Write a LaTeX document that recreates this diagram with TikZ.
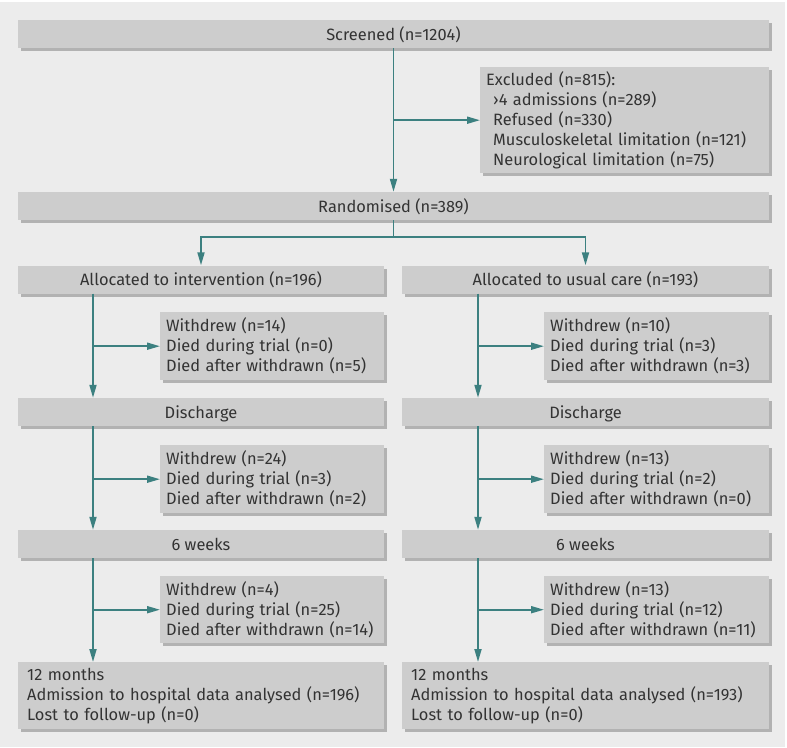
\documentclass[tikz,border=0pt]{standalone}
\usepackage{fontspec}
\setmainfont{Fira Sans}
\usetikzlibrary{arrows.meta,shadows}

\definecolor{bggray}{HTML}{ECECEC}
\definecolor{boxgray}{HTML}{CDCDCD}
\definecolor{shadegray}{HTML}{B2B2B2}
\definecolor{flowteal}{RGB}{60,128,128}
\definecolor{inkgray}{HTML}{333333}

\tikzset{
  boxed/.style={fill=boxgray, text=inkgray,
    drop shadow={shadow xshift=3pt, shadow yshift=-3pt, fill=shadegray, opacity=1}},
  bar/.style={boxed, minimum height=28pt, inner sep=0pt, text height=12pt, text depth=0pt},
  side/.style={boxed, align=left, anchor=north west, inner xsep=6pt, inner ysep=0pt},
  link/.style={draw=flowteal, line width=1.8pt},
  flow/.style={link, -{Triangle[length=13pt, width=7pt]}}
}

\begin{document}
\begin{tikzpicture}[x=1pt, y=-1pt, font=\fontsize{16.4}{20}\selectfont]
    % Background
    \fill[white] (0,0) rectangle (787,747);
    \fill[bggray] (0,2) rectangle (785,747);
    \useasboundingbox (0,0) rectangle (787,747);

    % Top of the flow
    \node[bar, minimum width=751pt] (screened) at (393.5,34) {Screened (n=1204)};
    \node[side, text width=277pt, minimum height=106pt] (excluded) at (480,67)
        {Excluded (n=815):\\
         \hspace*{7pt}›4 admissions (n=289)\\
         \hspace*{7pt}Refused (n=330)\\
         \hspace*{7pt}Musculoskeletal limitation (n=121)\\
         \hspace*{7pt}Neurological limitation (n=75)};
    \node[bar, minimum width=751pt] (randomised) at (393.5,206) {Randomised (n=389)};

    % Intervention arm
    \node[bar, minimum width=366pt] (allocInt) at (201,279.5) {Allocated to intervention (n=196)};
    \node[side, text width=212pt, minimum height=68pt] (wdIntA) at (160,312)
        {Withdrew (n=14)\\ Died during trial (n=0)\\ Died after withdrawn (n=5)};
    \node[bar, minimum width=366pt] (dischInt) at (201,412) {Discharge};
    \node[side, text width=212pt, minimum height=68pt] (wdIntB) at (160,445)
        {Withdrew (n=24)\\ Died during trial (n=3)\\ Died after withdrawn (n=2)};
    \node[bar, minimum width=366pt] (weeksInt) at (201,544) {6 weeks};
    \node[side, text width=212pt, minimum height=67pt] (wdIntC) at (160,576)
        {Withdrew (n=4)\\ Died during trial (n=25)\\ Died after withdrawn (n=14)};
    \node[side, inner xsep=9pt, text width=348pt, minimum height=67pt] (monthsInt) at (18,662)
        {12 months\\ Admission to hospital data analysed (n=196)\\ Lost to follow-up (n=0)};

    % Usual care arm
    \node[bar, minimum width=367pt] (allocCare) at (585.5,279.5) {Allocated to usual care (n=193)};
    \node[side, text width=213pt, minimum height=68pt] (wdCareA) at (544,312)
        {Withdrew (n=10)\\ Died during trial (n=3)\\ Died after withdrawn (n=3)};
    \node[bar, minimum width=367pt] (dischCare) at (585.5,412) {Discharge};
    \node[side, text width=213pt, minimum height=68pt] (wdCareB) at (544,445)
        {Withdrew (n=13)\\ Died during trial (n=2)\\ Died after withdrawn (n=0)};
    \node[bar, minimum width=367pt] (weeksCare) at (585.5,544) {6 weeks};
    \node[side, text width=213pt, minimum height=67pt] (wdCareC) at (544,576)
        {Withdrew (n=13)\\ Died during trial (n=12)\\ Died after withdrawn (n=11)};
    \node[side, inner xsep=9pt, text width=349pt, minimum height=67pt] (monthsCare) at (402,662)
        {12 months\\ Admission to hospital data analysed (n=193)\\ Lost to follow-up (n=0)};

    % Connectors
    \draw[flow] (screened.south) -- (randomised.north);
    \draw[flow] (screened.south |- excluded.west) -- (excluded.west);
    \draw[link] (randomised.south) -- ++(0,17) coordinate (split);
    \draw[flow] (split) -| (allocInt.north);
    \draw[flow] (split) -| (allocCare.north);

    \coordinate (spineInt) at (93,0);
    \coordinate (spineCare) at (478,0);
    \foreach \arm in {Int, Care} {
        \draw[flow] (spine\arm |- alloc\arm.south) -- (spine\arm |- disch\arm.north);
        \draw[flow] (spine\arm |- disch\arm.south) -- (spine\arm |- weeks\arm.north);
        \draw[flow] (spine\arm |- weeks\arm.south) -- (spine\arm |- months\arm.north);
        \draw[flow] (spine\arm |- wd\arm A.west) -- (wd\arm A.west);
        \draw[flow] (spine\arm |- wd\arm B.west) -- (wd\arm B.west);
        \draw[flow] (spine\arm |- wd\arm C.west) -- (wd\arm C.west);
    }
\end{tikzpicture}
\end{document}
